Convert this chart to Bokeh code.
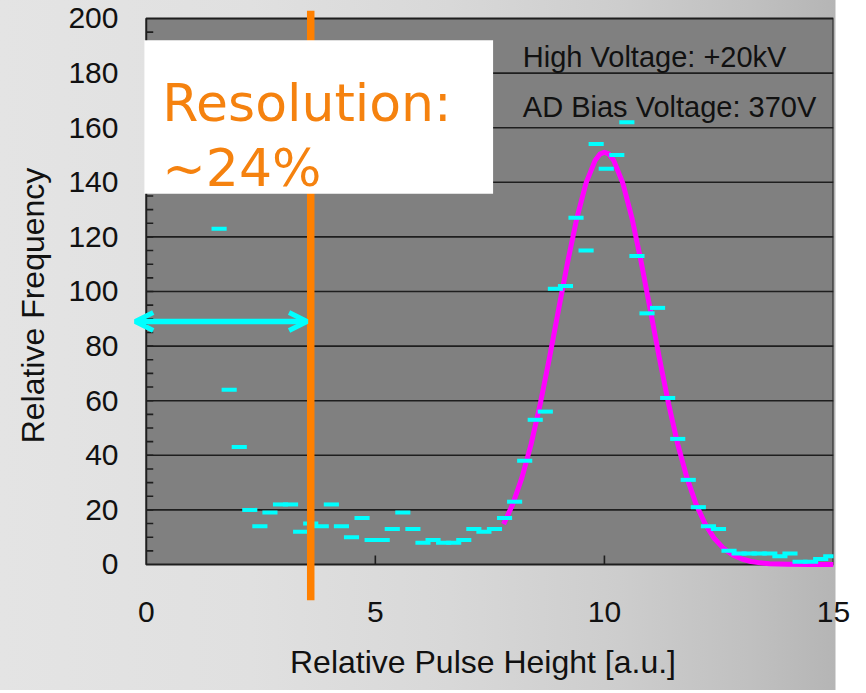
from math import pi
from bokeh.plotting import figure
from bokeh.models import Range1d, FixedTicker, Span, Arrow, OpenHead, BoxAnnotation, Label
from bokeh.embed import file_html
from bokeh.resources import INLINE

# ---- data ----
bin_x = [1.59, 1.81, 2.03, 2.26, 2.48, 2.70, 2.93, 3.15, 3.37, 3.59, 3.82, 4.04,
         4.26, 4.48, 4.71, 4.93, 5.15, 5.37, 5.60, 5.82, 6.04, 6.26, 6.49, 6.71,
         6.93, 7.15, 7.37, 7.60, 7.82, 8.04, 8.26, 8.49, 8.71, 8.93, 9.15, 9.38,
         9.60, 9.82, 10.04, 10.27, 10.49, 10.71, 10.93, 11.16, 11.38, 11.60, 11.83,
         12.05, 12.27, 12.49, 12.72, 12.94, 13.16, 13.38, 13.61, 13.83, 14.05,
         14.27, 14.50, 14.72, 14.94]
freq = [123, 64, 43, 20, 14, 19, 22, 22, 12, 15, 14, 22,
        14, 10, 17, 9, 9, 13, 19, 13, 8, 9, 8, 8,
        9, 13, 12, 13, 17, 23, 38, 53, 56, 101, 102, 127,
        115, 154, 145, 150, 162, 113, 92, 94, 61, 46, 31,
        21, 14, 13, 5, 4, 4, 4, 4, 3, 4,
        1, 1, 2, 3]

fit_x = [7.8, 8.0, 8.2, 8.4, 8.6, 8.8, 9.0, 9.2, 9.4, 9.6, 9.8, 9.9, 10.0, 10.1,
         10.2, 10.4, 10.6, 10.8, 11.0, 11.2, 11.4, 11.6, 11.8, 12.0, 12.2, 12.4,
         12.6, 12.8, 13.0, 13.2, 13.4, 13.6, 13.8, 14.0, 14.5, 15.0]
fit_y = [14.8, 22.1, 31.8, 44.1, 58.9, 75.6, 93.4, 111.0, 127.0, 139.8, 148.1, 150.3, 151.0, 150.3,
         148.1, 139.8, 127.0, 111.0, 93.4, 75.6, 58.9, 44.1, 31.8, 22.1, 14.8, 9.5,
         5.9, 3.5, 2.0, 1.1, 0.6, 0.3, 0.2, 0.1, 0.0, 0.0]

x_ticks = [0, 5, 10, 15]
y_ticks = [0, 20, 40, 60, 80, 100, 120, 140, 160, 180, 200]
grid_y = [20, 40, 60, 80, 100, 120, 140, 160, 180]
minor_y = [v for v in range(5, 200, 5)]
x_inner_ticks = [5, 10]

X_MIN, X_MAX, Y_MIN, Y_MAX = 0, 15, 0, 200
resolution_x = 3.59
arrow_y = 89
arrow_x0, arrow_x1 = -0.24, 3.51

LINE = "#1e1e1e"
CYAN = "#00ffff"
ORANGE = "#ff8000"
TEXT_ORANGE = "#f5820f"

p = figure(frame_width=701, frame_height=590,
           x_range=Range1d(-0.3, 15.0), y_range=Range1d(-13.19, 202.93),
           output_backend="svg", toolbar_location=None,
           min_border_left=132, min_border_right=25, min_border_top=10, min_border_bottom=90,
           background_fill_color=None, border_fill_color=None,
           outline_line_color=None)
p.grid.visible = False
# slide background: soft horizontal gradient with a white margin at the right
p.styles = {"background": "linear-gradient(to right, #e4e4e4 0px, #e0e0e0 250px, "
                          "#d8d8d8 450px, #cdcdcd 620px, #c0c0c0 750px, #b5b5b5 835px, "
                          "#ffffff 836px, #ffffff 900px)"}

# axes
for ax, ticks in ((p.xaxis[0], x_ticks), (p.yaxis[0], y_ticks)):
    ax.ticker = FixedTicker(ticks=ticks, minor_ticks=[])
    ax.axis_line_color = None
    ax.major_tick_line_color = None
    ax.minor_tick_line_color = None
    ax.major_tick_in = 0
    ax.major_tick_out = 0
    ax.major_label_text_font = "Liberation Sans"
    ax.major_label_text_font_size = "30px"
    ax.major_label_text_color = "#111111"
    ax.axis_label_text_font = "Liberation Sans"
    ax.axis_label_text_font_size = "32px"
    ax.axis_label_text_font_style = "normal"
    ax.axis_label_text_color = "#111111"

p.xaxis.axis_label = "Relative Pulse Height [a.u.]"
p.yaxis.axis_label = "Relative Frequency"
p.xaxis.major_label_standoff = 1
p.xaxis.axis_label_standoff = 19
p.yaxis.major_label_standoff = 14
p.yaxis.axis_label_standoff = 14

# plot area
p.quad(left=[X_MIN], right=[X_MAX], bottom=[Y_MIN], top=[Y_MAX],
       fill_color="#808080", line_color=LINE, line_width=2)
p.segment(x0=X_MIN, x1=X_MAX, y0=grid_y, y1=grid_y, line_color=LINE, line_width=1.6)
p.ray(x=X_MIN, y=minor_y, length=7, length_units="screen", angle=0,
      line_color=LINE, line_width=1.6)
p.ray(x=x_inner_ticks, y=Y_MIN, length=9, length_units="screen", angle=pi / 2,
      line_color=LINE, line_width=1.6)

# fit curve and histogram
p.line(fit_x, fit_y, line_color="#ff00ff", line_width=5, line_join="round")
p.rect(x=bin_x, y=freq, width=0.33, height=4, height_units="screen",
       fill_color=CYAN, line_color=None)

# annotations
p.add_layout(Span(location=resolution_x, dimension="height", line_color=ORANGE, line_width=7.5))
p.add_layout(Arrow(start=OpenHead(size=18, line_color=CYAN, line_width=5),
                   end=OpenHead(size=18, line_color=CYAN, line_width=5),
                   x_start=arrow_x0, y_start=arrow_y, x_end=arrow_x1, y_end=arrow_y,
                   line_color=CYAN, line_width=5.5))
p.add_layout(BoxAnnotation(left=-0.04, right=7.57, bottom=135.8, top=192,
                           fill_color="white", fill_alpha=1, line_color=None))
p.add_layout(Label(x=0.35, y=169, text="Resolution:", text_font="DejaVu Sans",
                   text_font_size="52px", text_color=TEXT_ORANGE, text_baseline="alphabetic"))
p.add_layout(Label(x=0.35, y=145.3, text="~24%", text_font="DejaVu Sans",
                   text_font_size="52px", text_color=TEXT_ORANGE, text_baseline="alphabetic"))
p.add_layout(Label(x=8.22, y=185.9, text="High Voltage: +20kV", text_font="Liberation Sans",
                   text_font_size="29px", text_color="#111111", text_baseline="alphabetic"))
p.add_layout(Label(x=8.22, y=167.5, text="AD Bias Voltage: 370V", text_font="Liberation Sans",
                   text_font_size="29px", text_color="#111111", text_baseline="alphabetic"))

open("out.html", "w").write(file_html(p, INLINE))
